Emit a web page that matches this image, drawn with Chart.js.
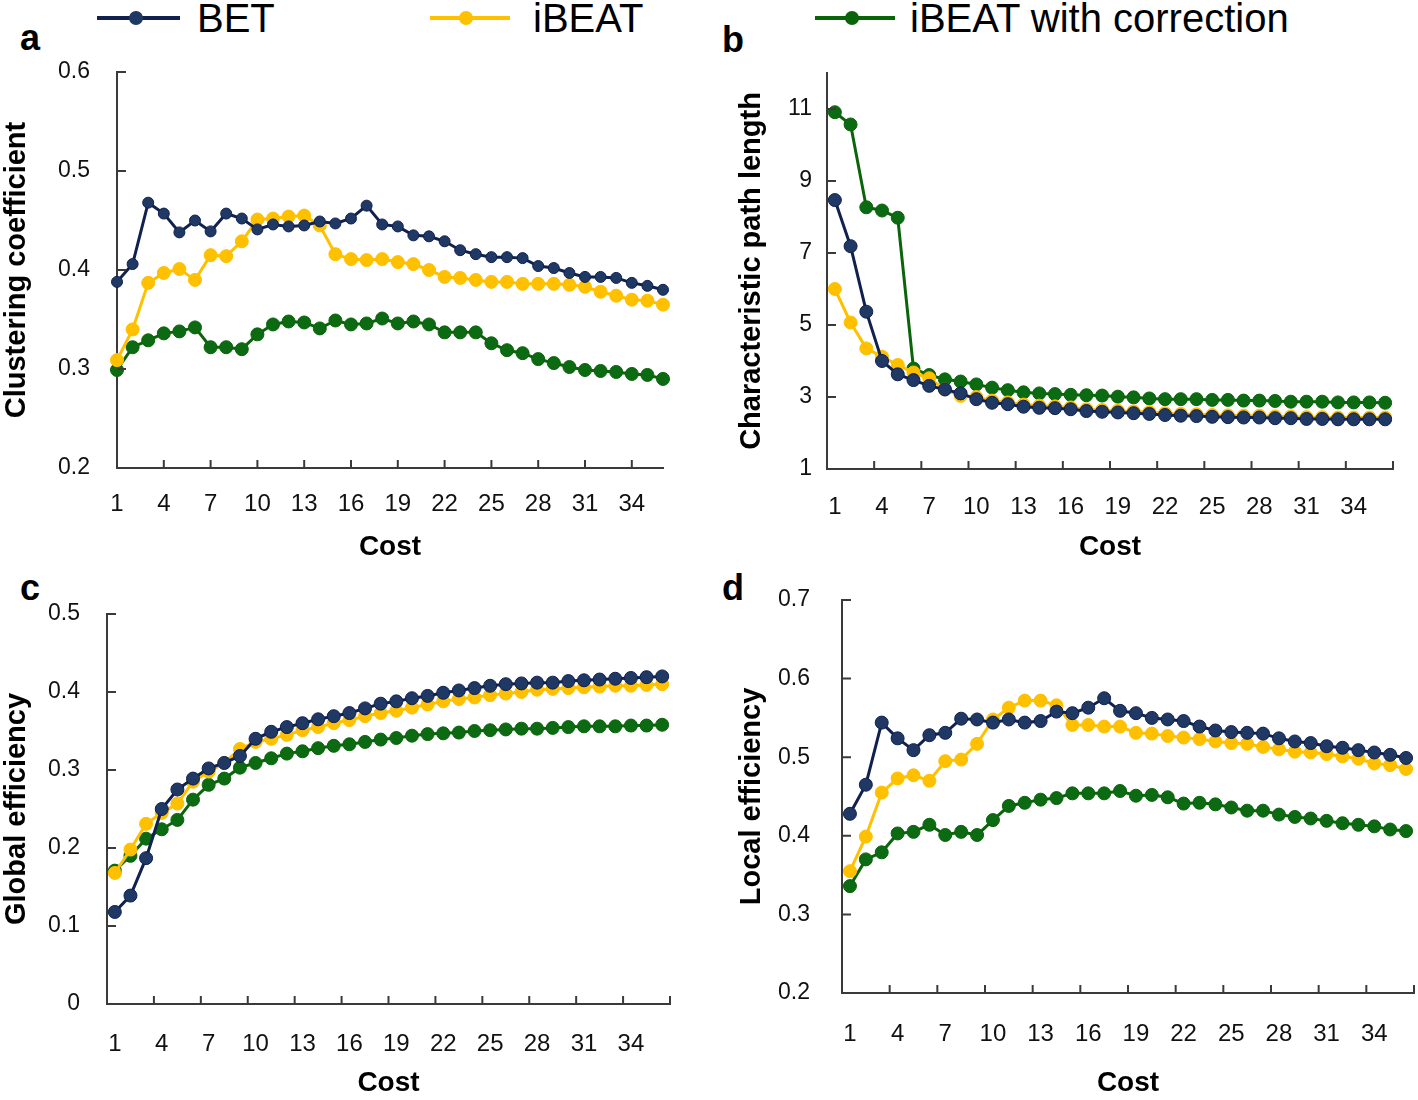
<!DOCTYPE html>
<html>
<head>
<meta charset="utf-8">
<script src="https://cdn.jsdelivr.net/npm/chart.js@4.4.1/dist/chart.umd.min.js"></script>
<style>
body{margin:0;background:#fff;width:1418px;height:1100px;position:relative;overflow:hidden;font-family:"Liberation Sans",Arial,sans-serif;}
canvas{position:absolute;}
.letter{position:absolute;font-weight:bold;font-size:36px;line-height:36px;color:#000;}
.legtxt{position:absolute;top:-3px;font-size:40px;line-height:42px;color:#000;}
.legline{position:absolute;top:16px;height:4px;}
.legdot{position:absolute;top:11px;width:14px;height:14px;border-radius:50%;}
</style>
</head>
<body>
<div class="legline" style="left:97px;width:83px;background:#10204f"></div>
<div class="legdot" style="left:129px;background:#1f3864"></div>
<div class="legtxt" style="left:197px">BET</div>
<div class="legline" style="left:430px;width:80px;background:#ffc000"></div>
<div class="legdot" style="left:459px;background:#ffc000"></div>
<div class="legtxt" style="left:533px">iBEAT</div>
<div class="legline" style="left:815px;width:80px;background:#0a640a"></div>
<div class="legdot" style="left:845px;background:#0a640a"></div>
<div class="legtxt" style="left:910px">iBEAT with correction</div>

<div class="letter" style="left:20px;top:20px">a</div>
<div class="letter" style="left:722px;top:22px">b</div>
<div class="letter" style="left:20px;top:570px">c</div>
<div class="letter" style="left:722px;top:570px">d</div>

<canvas id="chartA" width="700" height="506" style="left:0;top:58px"></canvas>
<canvas id="chartB" width="683" height="505" style="left:735px;top:59px"></canvas>
<canvas id="chartC" width="700" height="500" style="left:0;top:600px"></canvas>
<canvas id="chartD" width="700" height="520" style="left:735px;top:580px"></canvas>

<script>
const costs = ['1','2','3','4','5','6','7','8','9','10','11','12','13','14','15','16','17','18',
  '19','20','21','22','23','24','25','26','27','28','29','30','31','32','33','34','35','36'];

// a - clustering coefficient
const clusBET = [0.388,0.406,0.468,0.457,0.438,0.450,0.439,0.457,0.452,0.441,
  0.446,0.444,0.445,0.449,0.447,0.452,0.465,0.446,0.444,0.435,
  0.434,0.429,0.420,0.416,0.413,0.413,0.412,0.404,0.402,0.397,
  0.393,0.393,0.392,0.387,0.384,0.380];
const clusIBEAT = [0.309,0.340,0.387,0.397,0.401,0.390,0.415,0.414,0.429,0.451,
  0.452,0.454,0.455,0.445,0.416,0.411,0.410,0.411,0.408,0.406,
  0.400,0.393,0.392,0.390,0.388,0.388,0.386,0.386,0.386,0.385,
  0.383,0.378,0.374,0.370,0.369,0.365];
const clusCorr = [0.299,0.322,0.329,0.336,0.338,0.342,0.322,0.322,0.320,0.335,
  0.345,0.348,0.347,0.341,0.349,0.345,0.346,0.351,0.346,0.348,
  0.345,0.337,0.337,0.337,0.326,0.319,0.316,0.310,0.306,0.302,
  0.299,0.298,0.297,0.295,0.294,0.290];

// b - characteristic path length
const pathBET = [8.47,7.19,5.37,4.00,3.63,3.47,3.31,3.21,3.10,2.94,
  2.84,2.80,2.73,2.70,2.69,2.66,2.61,2.59,2.57,2.55,
  2.53,2.50,2.48,2.47,2.45,2.44,2.43,2.43,2.41,2.41,
  2.39,2.39,2.38,2.38,2.38,2.38];
const pathIBEAT = [6.00,5.07,4.35,4.12,3.89,3.68,3.52,3.21,3.03,3.00,
  2.90,2.85,2.79,2.76,2.74,2.71,2.66,2.64,2.62,2.60,
  2.58,2.55,2.53,2.52,2.50,2.49,2.48,2.48,2.46,2.46,
  2.44,2.44,2.43,2.43,2.43,2.43];
const pathCorr = [10.91,10.57,8.27,8.18,7.98,3.79,3.61,3.49,3.43,3.35,
  3.26,3.19,3.13,3.10,3.08,3.06,3.05,3.04,3.01,2.99,
  2.96,2.94,2.94,2.94,2.92,2.92,2.90,2.90,2.89,2.87,
  2.87,2.87,2.85,2.85,2.85,2.84];

// c - global efficiency
const globBET = [0.118,0.139,0.187,0.250,0.275,0.289,0.302,0.309,0.318,0.340,
  0.349,0.355,0.360,0.365,0.369,0.373,0.379,0.385,0.388,0.392,
  0.395,0.399,0.402,0.405,0.408,0.410,0.411,0.412,0.412,0.414,
  0.415,0.416,0.417,0.418,0.419,0.420];
const globIBEAT = [0.168,0.198,0.231,0.245,0.257,0.285,0.298,0.309,0.327,0.336,
  0.340,0.345,0.351,0.355,0.360,0.364,0.369,0.373,0.376,0.380,
  0.384,0.388,0.391,0.393,0.396,0.398,0.400,0.403,0.404,0.405,
  0.406,0.407,0.408,0.408,0.409,0.410];
const globCorr = [0.171,0.190,0.212,0.224,0.236,0.262,0.281,0.289,0.303,0.309,
  0.315,0.321,0.324,0.328,0.331,0.333,0.336,0.339,0.341,0.344,
  0.346,0.347,0.348,0.350,0.351,0.352,0.353,0.353,0.354,0.355,
  0.356,0.356,0.356,0.357,0.357,0.358];

// d - local efficiency
const localBET = [0.428,0.465,0.544,0.524,0.509,0.528,0.531,0.549,0.548,0.544,
  0.548,0.544,0.546,0.558,0.556,0.563,0.575,0.559,0.556,0.550,
  0.548,0.546,0.539,0.534,0.532,0.531,0.530,0.524,0.520,0.518,
  0.514,0.512,0.509,0.506,0.503,0.499];
const localIBEAT = [0.355,0.399,0.455,0.473,0.477,0.470,0.495,0.497,0.517,0.548,
  0.563,0.572,0.572,0.566,0.541,0.541,0.539,0.539,0.531,0.530,
  0.527,0.525,0.523,0.520,0.518,0.517,0.513,0.510,0.507,0.506,
  0.504,0.501,0.498,0.492,0.490,0.485];
const localCorr = [0.336,0.370,0.379,0.403,0.405,0.414,0.401,0.405,0.401,0.420,
  0.438,0.442,0.446,0.448,0.454,0.454,0.454,0.457,0.451,0.452,
  0.449,0.441,0.442,0.440,0.436,0.432,0.432,0.427,0.424,0.422,
  0.419,0.416,0.414,0.412,0.408,0.406];

const ticksA = [0.2,0.3,0.4,0.5,0.6];
const ticksB = [1,3,5,7,9,11];
const ticksC = [0,0.1,0.2,0.3,0.4,0.5];
const ticksD = [0.2,0.3,0.4,0.5,0.6,0.7];

const seriesNames = ['BET','iBEAT','iBEAT with correction'];
const axisColor = '#3a3a3a';
const FONT = '"Liberation Sans", Arial, sans-serif';

// small tick marks drawn inward, like the original figure
const innerTicks = {
  id: 'innerTicks',
  afterDraw(chart, args, opts) {
    const {ctx, chartArea: a, scales: {x, y}} = chart;
    ctx.save();
    ctx.strokeStyle = axisColor;
    ctx.lineWidth = 2;
    ctx.beginPath();
    y.ticks.forEach(t => {
      const py = y.getPixelForValue(t.value);
      ctx.moveTo(a.left, py); ctx.lineTo(a.left + 9, py);
    });
    const half = (x.getPixelForValue(1) - x.getPixelForValue(0)) / 2;
    for (let i = 0; i < costs.length; i += 3) {
      let px = opts.between ? x.getPixelForValue(i + 2) + half : x.getPixelForValue(i);
      ctx.moveTo(px, a.bottom); ctx.lineTo(px, a.bottom - 8);
    }
    ctx.stroke();
    ctx.restore();
  }
};

function ds(label, data, color, fill, r) {
  return {
    label: label, data: data,
    borderColor: color, backgroundColor: fill,
    pointBackgroundColor: fill, pointBorderColor: color,
    pointBorderWidth: 1, pointRadius: r, borderWidth: 3,
    tension: 0, clip: false
  };
}

function makePanel(id, p) {
  new Chart(document.getElementById(id), {
    type: 'line',
    data: {
      labels: costs,
      datasets: [
        ds(seriesNames[0], p.bet, '#10204f', '#1f3864', p.betR || 6.5),
        ds(seriesNames[1], p.ibeat, '#ffc000', '#ffc000', 6.5),
        ds(seriesNames[2], p.corr, '#0a640a', '#0b6a12', 6.5)
      ]
    },
    options: {
      responsive: false,
      animation: false,
      devicePixelRatio: 1,
      layout: {autoPadding: false, padding: {top: p.top, right: p.right, left: 0, bottom: 0}},
      plugins: {legend: {display: false}, tooltip: {enabled: false}, innerTicks: {between: p.between}},
      scales: {
        x: {
          type: 'category',
          offset: p.between,
          grid: {display: false, drawTicks: false},
          border: {display: true, color: axisColor, width: 2},
          ticks: {
            autoSkip: false, maxRotation: 0, padding: p.xPad, color: '#111',
            font: {family: FONT, size: 24},
            callback: function(v, i) { return i % 3 === 0 ? this.getLabelForValue(v) : ''; }
          },
          title: {display: true, text: 'Cost', color: '#000', padding: 0,
            font: {family: FONT, size: 28, weight: 'bold'}},
          afterFit: s => { s.height = p.xH; }
        },
        y: {
          min: p.yTicks[0], max: p.yMax,
          // invisible tick length gives the gap between labels and axis
          grid: {display: false, drawTicks: true, tickLength: p.yPad},
          border: {display: true, color: axisColor, width: 2},
          ticks: {padding: 0, color: '#111', font: {family: FONT, size: 23},
            callback: v => p.fmt(v)},
          afterBuildTicks: s => { s.ticks = p.yTicks.map(v => ({value: v})); },
          title: {display: true, text: p.yTitle, color: '#000', padding: 0,
            font: {family: FONT, size: 29, weight: 'bold'}},
          afterFit: s => { s.width = p.yW; }
        }
      }
    },
    plugins: [innerTicks]
  });
}

const dec = v => v === 0 ? '0' : v.toFixed(1);

makePanel('chartA', {bet: clusBET, ibeat: clusIBEAT, corr: clusCorr, betR: 5.5,
  yTicks: ticksA, yMax: 0.6, fmt: dec, yTitle: 'Clustering coefficient',
  top: 14, right: 37, yW: 117, xH: 96, xPad: 22, yPad: 27, between: false});
makePanel('chartB', {bet: pathBET, ibeat: pathIBEAT, corr: pathCorr,
  yTicks: ticksB, yMax: 12, fmt: v => String(v), yTitle: 'Characteristic path length',
  top: 14, right: 25, yW: 92, xH: 95, xPad: 24, yPad: 15, between: true});
makePanel('chartC', {bet: globBET, ibeat: globIBEAT, corr: globCorr,
  yTicks: ticksC, yMax: 0.5, fmt: dec, yTitle: 'Global efficiency',
  top: 14, right: 30, yW: 107, xH: 96, xPad: 26, yPad: 27, between: true});
makePanel('chartD', {bet: localBET, ibeat: localIBEAT, corr: localCorr,
  yTicks: ticksD, yMax: 0.7, fmt: dec, yTitle: 'Local efficiency',
  top: 20, right: 21, yW: 107, xH: 107, xPad: 27, yPad: 32, between: true});
</script>
</body>
</html>
